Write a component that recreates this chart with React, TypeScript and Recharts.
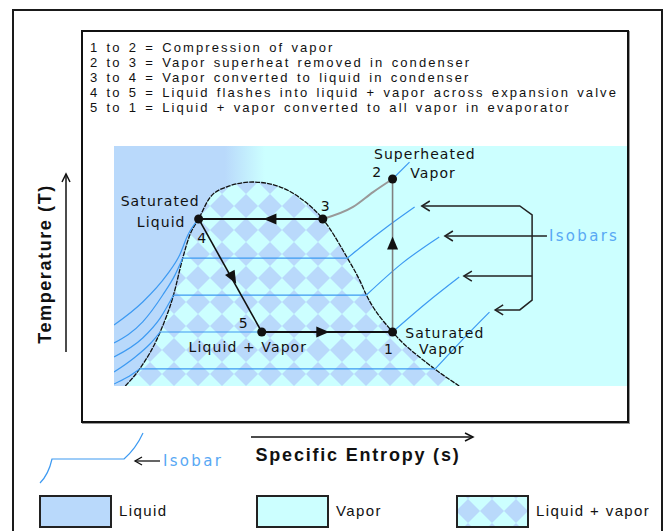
import React from "react";
import { ComposedChart, XAxis, YAxis, Area, Line, Scatter } from "recharts";

const LIQUID = "#b9d9fb";
const VAPOR = "#ccffff";
const ISOBAR = "#3d9af2";
const ISOBAR_TEXT = "#58a8f4";
const INK = "#111";

const captions = [
  "1 to 2 = Compression of vapor",
  "2 to 3 = Vapor superheat removed in condenser",
  "3 to 4 = Vapor converted to liquid in condenser",
  "4 to 5 = Liquid flashes into liquid + vapor across expansion valve",
  "5 to 1 = Liquid + vapor converted to all vapor in evaporator",
];

// saturation dome (entropy s, temperature T, arbitrary units)
const domeS = [0.22, 0.5, 0.9, 1.16, 1.34, 1.48, 1.65, 1.87, 2.2, 2.7, 3.23, 3.68, 4.07, 4.55, 4.79, 4.92, 5.43, 6.1, 6.73];
const domeT = [0, 7.1, 22.5, 37.9, 53.3, 63, 69.6, 78.5, 83, 85, 83, 77.5, 69.6, 53.3, 44, 37.9, 22.5, 9.6, 0];

// isobars: level inside the dome, plus compressed-liquid and superheated branches
const isobarT = [69.6, 53.3, 37.9, 22.5, 7.1];
const satLiquidS = [1.65, 1.34, 1.16, 0.9, 0.5];
const satVaporS = [4.07, 4.55, 4.92, 5.43, 6.26];
const liquidBranches = [
  [[0, 25.4], [0.56, 35], [1.03, 46.3], [1.28, 54.6], [1.44, 62.9], [1.65, 69.6]],
  [[0, 17.9], [0.56, 26.7], [0.95, 37.9], [1.19, 46.3], [1.34, 53.3]],
  [[0, 12.1], [0.56, 20], [0.9, 28.3], [1.16, 37.9]],
  [[0, 5.8], [0.39, 11.7], [0.7, 17.5], [0.9, 22.5]],
  [[0, 0.8], [0.25, 3.5], [0.5, 7.1]],
];
const vaporBranches = [
  [[5.43, 86.25], [5.76, 93.3]],
  [[4.55, 53.3], [4.79, 57.5], [5.37, 67.1], [5.86, 74.6]],
  [[4.92, 37.9], [5.62, 51.2], [6.34, 62.1]],
  [[5.43, 22.5], [6.09, 34.6], [6.73, 45.4]],
  [[6.26, 7.1], [6.73, 17.9], [7.32, 30.8]],
];

// refrigeration cycle states 1..5
const stateNames = ["1", "2", "3", "4", "5"];
const stateS = [5.43, 5.43, 4.07, 1.65, 2.88];
const stateT = [22.5, 86.25, 69.6, 69.6, 22.5];
// 2 -> 3 follows the top isobar
const superheatS = [4.07, 4.66, 5.05, 5.43];
const superheatT = [69.6, 74.6, 80.8, 86.25];

// direction arrows on the cycle
const arrowS = [5.43, 3.04, 2.32, 4.07];
const arrowT = [59.6, 69.6, 45, 22.5];
const arrowAngle = [-90, 180, 60.6, 0];

// "Isobars" call-out bracket
const bracketPath = [[6.0, 75], [7.91, 75], [8.15, 71.25], [8.15, 35.8], [7.91, 31.7], [7.43, 31.7]];
const bracketTicks = [
  [[6.45, 62.5], [8.44, 62.5]],
  [[6.82, 45.8], [8.15, 45.8]],
];
const bracketTips = [[6.0, 75], [6.45, 62.5], [6.82, 45.8], [7.43, 31.7]];

const labelText = ["1", "2", "3", "4", "5", "Superheated", "Vapor", "Saturated", "Vapor", "Saturated", "Liquid", "Liquid + Vapor"];
const labelS = [5.36, 5.13, 4.13, 1.72, 2.53, 6.06, 6.22, 6.45, 6.39, 0.9, 0.92, 2.61];
const labelT = [15.4, 89.2, 75, 61.7, 26.25, 96.7, 88.75, 22.1, 15.4, 77.1, 68.3, 16.25];

const pts = (pairs: number[][]) => pairs.map(([s, T]) => ({ s, T }));
const zip = (s: number[], T: number[]) => s.map((v, i) => ({ s: v, T: T[i] }));

const dome = zip(domeS, domeT);
const states = zip(stateS, stateT).map((p, i) => ({ ...p, name: stateNames[i] }));
const arrows = zip(arrowS, arrowT).map((p, i) => ({ ...p, angle: arrowAngle[i] }));
const labels = zip(labelS, labelT).map((p, i) => ({ ...p, text: labelText[i] }));
const seg = (a: number, b: number) => [states[a], states[b]];

const labelFont = { fontFamily: "'DejaVu Sans', sans-serif", fontSize: 14, letterSpacing: 1.1 };

const Arrowhead = (p: any) => {
  const a = (p.payload.angle * Math.PI) / 180;
  const dx = Math.cos(a);
  const dy = Math.sin(a);
  const L = 13;
  const w = 5.5;
  const tx = p.cx + (dx * L) / 2;
  const ty = p.cy + (dy * L) / 2;
  const bx = p.cx - (dx * L) / 2;
  const by = p.cy - (dy * L) / 2;
  return (
    <polygon
      points={`${tx},${ty} ${bx - dy * w},${by + dx * w} ${bx + dy * w},${by - dx * w}`}
      fill={INK}
    />
  );
};

const Chevron = (p: any) => (
  <polyline
    points={`${p.cx + 8},${p.cy - 5} ${p.cx},${p.cy} ${p.cx + 8},${p.cy + 5}`}
    fill="none"
    stroke="#222"
    strokeWidth={1.5}
  />
);

const Dot = (p: any) => <circle cx={p.cx} cy={p.cy} r={4.5} fill={INK} />;

const Label = (p: any) => (
  <text x={p.cx} y={p.cy} textAnchor="middle" dominantBaseline="central" fill={INK} style={labelFont}>
    {p.payload.text}
  </text>
);

const IsobarsLabel = (p: any) => (
  <text x={p.cx} y={p.cy} dominantBaseline="central" fill={ISOBAR_TEXT} style={{ ...labelFont, fontSize: 15, letterSpacing: 2.3 }}>
    Isobars
  </text>
);

function Swatch({ x, fill, label, pattern }: { x: number; fill: string; label: string; pattern?: boolean }) {
  return (
    <>
      <svg width={73} height={33} style={{ position: "absolute", left: x, top: 495 }}>
        <defs>
          <pattern id="lgChecker" width={24} height={24} patternUnits="userSpaceOnUse" x={0} y={4}>
            <rect width={24} height={24} fill={VAPOR} />
            <polygon points="12,0 24,12 12,24 0,12" fill={LIQUID} />
          </pattern>
        </defs>
        <rect x={1} y={1} width={71} height={31} fill={pattern ? "url(#lgChecker)" : fill} stroke="#222" strokeWidth={2} />
      </svg>
      <div
        style={{
          position: "absolute",
          left: x + 80,
          top: 502,
          fontFamily: "'Liberation Sans', Arial, sans-serif",
          fontSize: 15,
          letterSpacing: 1.4,
          color: INK,
          whiteSpace: "nowrap",
        }}
      >
        {label}
      </div>
    </>
  );
}

export default function App() {
  return (
    <div style={{ position: "absolute", left: 0, top: 0, width: 668, height: 531, overflow: "hidden", background: "#fff" }}>
      {/* outer frame and inner box */}
      <div style={{ position: "absolute", left: 12, top: 9, width: 651, height: 600, border: "2px solid #1a1a1a", boxSizing: "border-box" }} />
      <div
        style={{
          position: "absolute",
          left: 81,
          top: 30,
          width: 548,
          height: 393,
          border: "2px solid #111",
          boxShadow: "1px 1px 0 #999",
          boxSizing: "border-box",
        }}
      />
      <div
        style={{
          position: "absolute",
          left: 90,
          top: 40,
          fontFamily: "'Liberation Sans', Arial, sans-serif",
          fontSize: 13,
          letterSpacing: 2.1,
          wordSpacing: 1.5,
          lineHeight: "15px",
          color: INK,
          whiteSpace: "nowrap",
        }}
      >
        {captions.map((c) => (
          <div key={c}>{c}</div>
        ))}
      </div>

      <ComposedChart
        width={668}
        height={531}
        margin={{ top: 146, right: 41, bottom: 145, left: 114 }}
        style={{ position: "absolute", left: 0, top: 0 }}
      >
        <defs>
          <linearGradient id="bg" x1="0" y1="0" x2="1" y2="0">
            <stop offset="0.216" stopColor={LIQUID} />
            <stop offset="0.294" stopColor={VAPOR} />
          </linearGradient>
          <pattern id="checker" width={24} height={24} patternUnits="userSpaceOnUse" x={114} y={146}>
            <rect width={24} height={24} fill={VAPOR} />
            <polygon points="12,0 24,12 12,24 0,12" fill={LIQUID} />
          </pattern>
        </defs>
        <XAxis type="number" dataKey="s" domain={[0, 10]} hide allowDataOverflow />
        <YAxis type="number" dataKey="T" domain={[0, 100]} hide allowDataOverflow />

        <Area
          data={[{ s: 0, T: 100 }, { s: 10, T: 100 }]}
          dataKey="T"
          type="linear"
          stroke="none"
          fill="url(#bg)"
          fillOpacity={1}
          isAnimationActive={false}
        />
        <Area
          data={dome}
          dataKey="T"
          type="monotone"
          stroke="#111"
          strokeWidth={1.3}
          strokeDasharray="5 1"
          fill="url(#checker)"
          fillOpacity={1}
          isAnimationActive={false}
        />

        {isobarT.map((T, i) => (
          <Line
            key={`liq${i}`}
            data={pts(liquidBranches[i])}
            dataKey="T"
            type="monotone"
            stroke={ISOBAR}
            strokeWidth={1.2}
            dot={false}
            activeDot={false}
            isAnimationActive={false}
          />
        ))}
        {isobarT.map((T, i) => (
          <Line
            key={`mix${i}`}
            data={[{ s: satLiquidS[i], T }, { s: satVaporS[i], T }]}
            dataKey="T"
            type="linear"
            stroke={ISOBAR}
            strokeWidth={1.2}
            dot={false}
            activeDot={false}
            isAnimationActive={false}
          />
        ))}
        {isobarT.map((T, i) => (
          <Line
            key={`vap${i}`}
            data={pts(vaporBranches[i])}
            dataKey="T"
            type="monotone"
            stroke={ISOBAR}
            strokeWidth={1.2}
            dot={false}
            activeDot={false}
            isAnimationActive={false}
          />
        ))}

        <Line data={pts(bracketPath)} dataKey="T" type="linear" stroke="#222" strokeWidth={1.5} dot={false} activeDot={false} isAnimationActive={false} />
        {bracketTicks.map((t, i) => (
          <Line key={`tick${i}`} data={pts(t)} dataKey="T" type="linear" stroke="#222" strokeWidth={1.5} dot={false} activeDot={false} isAnimationActive={false} />
        ))}

        {/* cycle */}
        <Line data={zip(superheatS, superheatT)} dataKey="T" type="monotone" stroke="#999" strokeWidth={2} dot={false} activeDot={false} isAnimationActive={false} />
        <Line data={seg(0, 1)} dataKey="T" type="linear" stroke="#808080" strokeWidth={1.6} dot={false} activeDot={false} isAnimationActive={false} />
        <Line data={seg(2, 3)} dataKey="T" type="linear" stroke={INK} strokeWidth={2} dot={false} activeDot={false} isAnimationActive={false} />
        <Line data={seg(3, 4)} dataKey="T" type="linear" stroke={INK} strokeWidth={1.6} dot={false} activeDot={false} isAnimationActive={false} />
        <Line data={seg(4, 0)} dataKey="T" type="linear" stroke={INK} strokeWidth={2} dot={false} activeDot={false} isAnimationActive={false} />

        <Scatter data={arrows} dataKey="T" shape={Arrowhead} isAnimationActive={false} />
        <Scatter data={pts(bracketTips)} dataKey="T" shape={Chevron} isAnimationActive={false} />
        <Scatter data={states} dataKey="T" shape={Dot} isAnimationActive={false} />
        <Scatter data={labels} dataKey="T" shape={Label} isAnimationActive={false} />
        <Scatter data={[{ s: 8.48, T: 62.5 }]} dataKey="T" shape={IsobarsLabel} isAnimationActive={false} />
      </ComposedChart>

      {/* axis arrows, axis titles and isobar key */}
      <svg width={668} height={531} style={{ position: "absolute", left: 0, top: 0, pointerEvents: "none" }}>
        <line x1={66} y1={352} x2={66} y2={174} stroke={INK} strokeWidth={1.5} />
        <polyline points="62,182 66,174 70,182" fill="none" stroke={INK} strokeWidth={1.5} />
        <text
          x={45}
          y={264}
          transform="rotate(-90 45 264)"
          textAnchor="middle"
          dominantBaseline="central"
          fill={INK}
          style={{ fontFamily: "'Liberation Sans', Arial, sans-serif", fontWeight: 700, fontSize: 18, letterSpacing: 1.6 }}
        >
          Temperature (T)
        </text>

        <line x1={251} y1={437} x2={473} y2={437} stroke={INK} strokeWidth={1.5} />
        <polyline points="465,433 473,437 465,441" fill="none" stroke={INK} strokeWidth={1.5} />
        <text
          x={358}
          y={455}
          textAnchor="middle"
          dominantBaseline="central"
          fill={INK}
          style={{ fontFamily: "'Liberation Sans', Arial, sans-serif", fontWeight: 700, fontSize: 18, letterSpacing: 1.8 }}
        >
          Specific Entropy (s)
        </text>

        <path d="M40,483 C46,477 50,468 52,459 L124,459 C132,452 138,444 143,433" fill="none" stroke={ISOBAR} strokeWidth={1.2} />
        <line x1={135} y1={461} x2={160} y2={461} stroke={INK} strokeWidth={1.3} />
        <polyline points="142,457 135,461 142,465" fill="none" stroke={INK} strokeWidth={1.3} />
        <text x={163} y={461} dominantBaseline="central" fill={ISOBAR_TEXT} style={{ ...labelFont, fontSize: 15, letterSpacing: 2.3 }}>
          Isobar
        </text>
      </svg>

      <Swatch x={39} fill={LIQUID} label="Liquid" />
      <Swatch x={256} fill={VAPOR} label="Vapor" />
      <Swatch x={456} fill={VAPOR} label="Liquid + vapor" pattern />
    </div>
  );
}
